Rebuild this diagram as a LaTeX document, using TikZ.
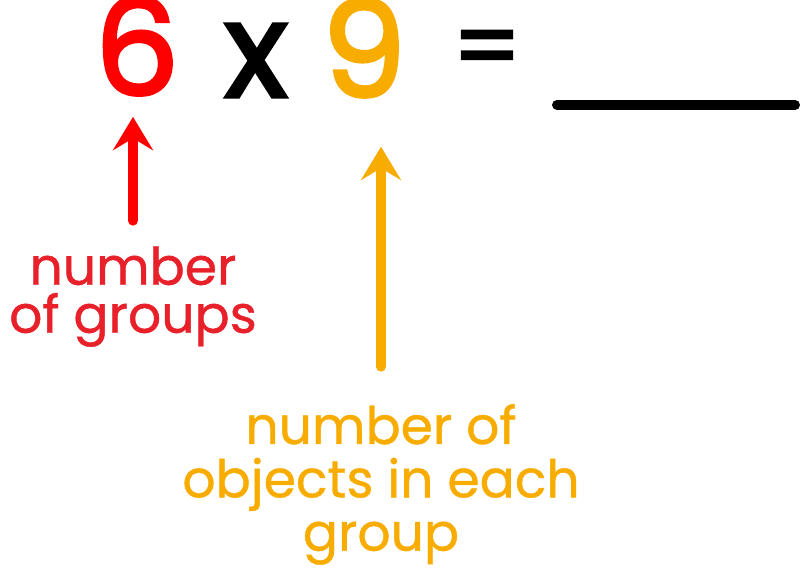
\documentclass[tikz,border=0pt]{standalone}
\usepackage{fontspec}
\setmainfont{Poppins}
\newfontfamily\digitfont{Poppins}[FakeBold=2.5]
\newfontfamily\labelfont{Poppins}[FakeBold=0.8]
\usetikzlibrary{arrows.meta}
\definecolor{sixred}{RGB}{255,0,0}
\definecolor{labelred}{RGB}{232,32,42}
\definecolor{nineorange}{RGB}{248,172,0}

\tikzset{
  digit/.style={inner sep=0pt, anchor=base, font=\digitfont\fontsize{100}{100}\selectfont},
  groupslabel/.style={inner sep=0pt, anchor=north, align=center, text=labelred, font=\labelfont\fontsize{39}{36}\selectfont},
  objectslabel/.style={inner sep=0pt, anchor=north, align=center, text=nineorange, font=\labelfont\fontsize{39}{40}\selectfont},
  bigarrow/.style={line width=7.5pt, line cap=round, -{Stealth[length=25pt, width=30pt, inset=9pt]}},
}

\begin{document}
\begin{tikzpicture}[x=0.75pt,y=0.75pt,yscale=-1]
\useasboundingbox (0,0) rectangle (800,570);

% Text Node
\node [digit, text=sixred] (six) at (137,95) {6};
% Text Node
\node [digit] (times) at (256,97) {x};
% Text Node
\node [digit, text=nineorange] (nine) at (364,97) {9};
% Text Node
\node [digit, font=\digitfont\fontsize{72}{72}\selectfont] (eq) at (487,80) {=};

%Straight Lines: the blank
\coordinate (blankL) at (557,105);
\coordinate (blankR) at (795,105);
\draw [line width=7.5pt, line cap=round] (blankL) -- (blankR);

% Text Node
\node [groupslabel] (groups) at (133,246) {number\\of groups};
% Text Node
\node [objectslabel] (objects) at (381,404) {number of\\objects in each\\group};

%Straight Lines [arrows]
\draw [bigarrow, sixred, shorten <=19pt, shorten >=16pt] (groups.north) -- (groups.north |- six.south);
\draw [bigarrow, nineorange, shorten <=28pt, shorten >=37pt] (objects.north) -- (objects.north |- nine.south);

\end{tikzpicture}
\end{document}
